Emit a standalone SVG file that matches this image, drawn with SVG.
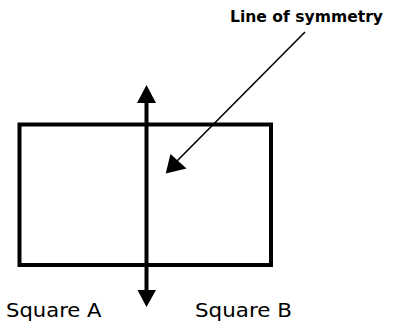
<svg xmlns="http://www.w3.org/2000/svg" width="404" height="324" viewBox="0 0 404 324">
<style>
.lbl{font-family:"DejaVu Sans","Verdana",sans-serif;fill:#000}
.thick{stroke:#000;stroke-width:4;fill:none}
</style>
<rect width="404" height="324" fill="#fff"/>
<g id="rectangle">
<rect class="thick" x="19.5" y="124.5" width="251.5" height="140.5"/>
</g>
<g id="connectors">
<line class="thick" x1="146.5" y1="100" x2="146.5" y2="292"/>
<polygon points="146.5,85 137,103 156,103" fill="#000"/>
<polygon points="146.5,307 137.5,290 156,290" fill="#000"/>
<line x1="305" y1="32" x2="176" y2="162" stroke="#000" stroke-width="1.6"/>
<polygon points="165.7,173.5 170.5,154 186.5,168.5" fill="#000"/>
</g>
<g id="label-line">
<text class="lbl" x="230" y="22" font-size="15" font-weight="bold" textLength="153" lengthAdjust="spacingAndGlyphs">Line of symmetry</text>
</g>
<g id="label-a">
<text class="lbl" x="6" y="316.5" font-size="20" textLength="95.5" lengthAdjust="spacingAndGlyphs">Square A</text>
</g>
<g id="label-b">
<text class="lbl" x="195" y="316.5" font-size="20" textLength="97" lengthAdjust="spacingAndGlyphs">Square B</text>
</g>
</svg>
